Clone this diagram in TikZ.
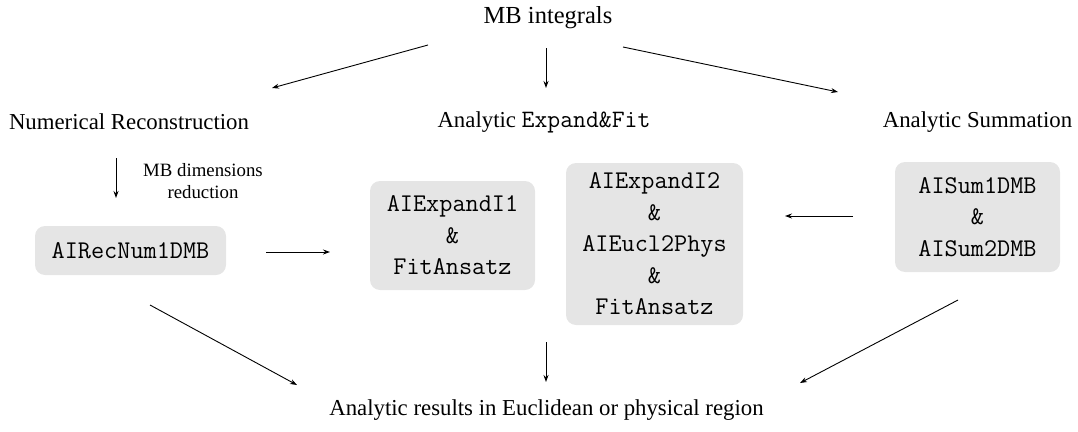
\documentclass[tikz,border=0pt]{standalone}
\usepackage{fontspec}
\setmainfont{Liberation Serif}
\usetikzlibrary{arrows.meta}
\begin{document}
\begin{tikzpicture}[x=1pt,y=-1pt,
  lbl/.style={font=\fontsize{22.8}{26}\selectfont, inner sep=0pt},
  box/.style={fill=black!10, rounded corners=10pt, inner sep=0pt, align=center,
    font=\fontsize{25.5}{31.5}\selectfont\ttfamily},
  arr/.style={-{Stealth[length=7pt,width=5pt]}, line width=0.9pt}]
\useasboundingbox (0,0) rectangle (1078,431);
% titles
\node[lbl, font=\fontsize{24.5}{28}\selectfont] (mb) at (548,18) {MB integrals};
\node[lbl] (num) at (129,122) {Numerical Reconstruction};
\node[lbl] (exp) at (544,122) {Analytic {\fontsize{25}{28}\selectfont\ttfamily Expand\&Fit}};
\node[lbl] (sum) at (977.5,122) {Analytic Summation};
\node[lbl] (res) at (546.5,410) {Analytic results in Euclidean or physical region};
\node[lbl, font=\fontsize{18.8}{22}\selectfont, align=center] (red) at (203,181) {MB dimensions\\reduction};
% boxes
\node[box, minimum width=191pt, minimum height=49pt] (rec) at (130.5,250.5) {AIRecNum1DMB};
\node[box, minimum width=165pt, minimum height=109pt] (e1) at (452.5,235.5) {AIExpandI1\\\&\\FitAnsatz};
\node[box, minimum width=177pt, minimum height=162pt] (e2) at (654.5,244) {AIExpandI2\\\&\\AIEucl2Phys\\\&\\FitAnsatz};
\node[box, minimum width=165pt, minimum height=110pt] (s) at (977.5,217) {AISum1DMB\\\&\\AISum2DMB};
% arrow endpoints
\coordinate (a1s) at (428,45);  \coordinate (a1e) at (272,88);
\coordinate (a2s) at (546,48);  \coordinate (a2e) at (546,88);
\coordinate (a3s) at (623,47);  \coordinate (a3e) at (838,92);
\coordinate (a4s) at (116,158); \coordinate (a4e) at (116,198);
\coordinate (a5s) at (266,252); \coordinate (a5e) at (330,252);
\coordinate (a6s) at (853,216); \coordinate (a6e) at (785,216);
\coordinate (a7s) at (150,305); \coordinate (a7e) at (297,385);
\coordinate (a8s) at (546,342); \coordinate (a8e) at (546,382);
\coordinate (a9s) at (958,300); \coordinate (a9e) at (800,383);
\draw[arr] (a1s) -- (a1e);
\draw[arr] (a2s) -- (a2e);
\draw[arr] (a3s) -- (a3e);
\draw[arr] (a4s) -- (a4e);
\draw[arr] (a5s) -- (a5e);
\draw[arr] (a6s) -- (a6e);
\draw[arr] (a7s) -- (a7e);
\draw[arr] (a8s) -- (a8e);
\draw[arr] (a9s) -- (a9e);
\end{tikzpicture}
\end{document}
